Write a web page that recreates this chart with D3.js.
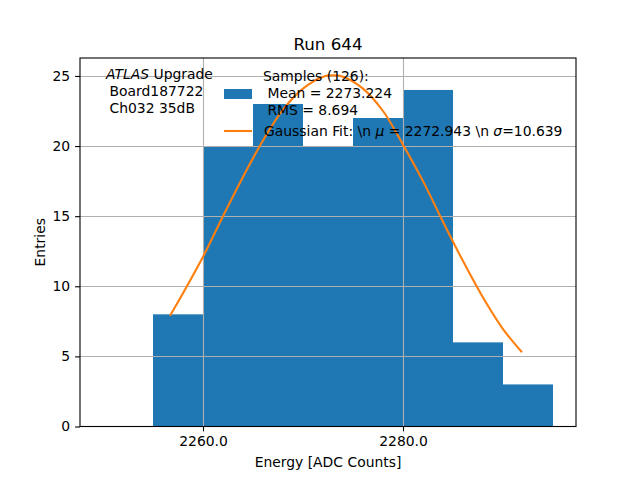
<!DOCTYPE html>
<html>
<head>
<meta charset="utf-8">
<script src="https://cdn.jsdelivr.net/npm/d3@7"></script>
<style>
  html, body { margin: 0; padding: 0; background: #fff; }
  svg { display: block; font-family: "DejaVu Sans", sans-serif; }
</style>
</head>
<body>
<svg id="chart" width="640" height="480"></svg>
<script>
// ---- data ----
const binStarts = [2255, 2260, 2265, 2270, 2275, 2280, 2285, 2290];
const binWidth = 5;
const counts = [8, 20, 23, 20, 22, 24, 6, 3];
const fitX = [2256.7, 2258, 2260, 2262, 2264, 2266, 2268, 2270, 2272, 2273, 2274, 2276, 2278, 2280, 2282, 2284, 2286, 2288, 2290, 2291.9];
const fitY = [7.9, 9.5, 12.1, 15.0, 17.8, 20.4, 22.6, 24.1, 24.95, 25.05, 24.95, 24.1, 22.5, 20.1, 17.5, 14.6, 11.8, 9.2, 6.95, 5.3];
const xTicks = [2260, 2280];
const yTicks = [0, 5, 10, 15, 20, 25];
const titleText = "Run 644";
const xLabel = "Energy [ADC Counts]";
const yLabel = "Entries";
const infoLines = ["Board187722", "Ch032 35dB"];
const sampleLines = ["Samples (126):", " Mean = 2273.224", " RMS = 8.694"];

// ---- layout ----
const L = 80, R = 576, T = 58, B = 426.5;
const svg = d3.select("#chart");
const x = d3.scaleLinear().domain([2247.7, 2297.3]).range([L, R]);
const y = d3.scaleLinear().domain([0, 26.28]).range([B, T]);
const blue = "#1f77b4", orange = "#ff7f0e";

// bars
svg.append("g").selectAll("rect").data(binStarts).join("rect")
  .attr("x", d => x(d))
  .attr("width", d => x(d + binWidth) - x(d))
  .attr("y", (d, i) => y(counts[i]))
  .attr("height", (d, i) => y(0) - y(counts[i]))
  .attr("fill", blue);

// grid (drawn over bars)
const grid = svg.append("g").attr("stroke", "#b0b0b0").attr("stroke-width", 1.1);
grid.selectAll("line.gx").data(xTicks).join("line")
  .attr("x1", d => Math.round(x(d)) + 0.5).attr("x2", d => Math.round(x(d)) + 0.5)
  .attr("y1", T).attr("y2", B);
grid.selectAll("line.gy").data(yTicks.filter(d => d > 0)).join("line")
  .attr("y1", d => Math.round(y(d)) + 0.5).attr("y2", d => Math.round(y(d)) + 0.5)
  .attr("x1", L).attr("x2", R);

// fit line
const fitData = fitX.map((v, i) => [v, fitY[i]]);
svg.append("path").datum(fitData)
  .attr("fill", "none").attr("stroke", orange).attr("stroke-width", 2.1)
  .attr("d", d3.line().x(d => x(d[0])).y(d => y(d[1])).curve(d3.curveCatmullRom));

// axes
const xAxis = d3.axisBottom(x).tickValues(xTicks).tickFormat(d3.format(".1f")).tickSizeOuter(0).tickSize(4.9).tickPadding(4.9);
const yAxis = d3.axisLeft(y).tickValues(yTicks).tickFormat(d3.format("d")).tickSizeOuter(0).tickSize(4.9).tickPadding(4.9);
const gx = svg.append("g").attr("transform", `translate(0,${B})`).call(xAxis);
const gy = svg.append("g").attr("transform", `translate(${L},0)`).call(yAxis);
[gx, gy].forEach(g => {
  g.select(".domain").remove();
  g.selectAll("text").attr("font-size", 13.9).attr("fill", "#000").attr("font-family", "DejaVu Sans");
  g.selectAll("line").attr("stroke", "#000").attr("stroke-width", 1.1);
});

// frame
svg.append("rect").attr("x", L).attr("y", T).attr("width", R - L).attr("height", B - T)
  .attr("fill", "none").attr("stroke", "#000").attr("stroke-width", 1.1);

// title and labels
svg.append("text").attr("x", (L + R) / 2).attr("y", 50).attr("text-anchor", "middle")
  .attr("font-size", 16.7).text(titleText);
svg.append("text").attr("x", (L + R) / 2).attr("y", 467).attr("text-anchor", "middle")
  .attr("font-size", 13.9).text(xLabel);
svg.append("text").attr("transform", `translate(45,${(T + B) / 2}) rotate(-90)`)
  .attr("text-anchor", "middle").attr("font-size", 13.9).text(yLabel);

// info text
const info = svg.append("text").attr("font-size", 13.9).attr("x", 106).attr("y", 79);
info.append("tspan").attr("font-style", "italic").text("ATLAS");
info.append("tspan").text(" Upgrade");
infoLines.forEach((t, i) => {
  svg.append("text").attr("font-size", 13.9).attr("x", 109.5).attr("y", 96 + i * 17).text(t);
});

// legend
svg.append("rect").attr("x", 224).attr("y", 89).attr("width", 28).attr("height", 10).attr("fill", blue);
sampleLines.forEach((t, i) => {
  svg.append("text").attr("font-size", 13.9).attr("x", 263)
    .attr("y", 81 + i * 17).attr("xml:space", "preserve").style("white-space", "pre").text(t);
});
svg.append("line").attr("x1", 224).attr("x2", 252).attr("y1", 131).attr("y2", 131)
  .attr("stroke", orange).attr("stroke-width", 2.1);
const fit = svg.append("text").attr("font-size", 13.9).attr("x", 264).attr("y", 136);
fit.append("tspan").text("Gaussian Fit: \\n ");
fit.append("tspan").attr("font-style", "italic").text("μ");
fit.append("tspan").text(" = 2272.943 \\n ");
fit.append("tspan").attr("font-style", "italic").text("σ");
fit.append("tspan").text("=10.639");
</script>
</body>
</html>
